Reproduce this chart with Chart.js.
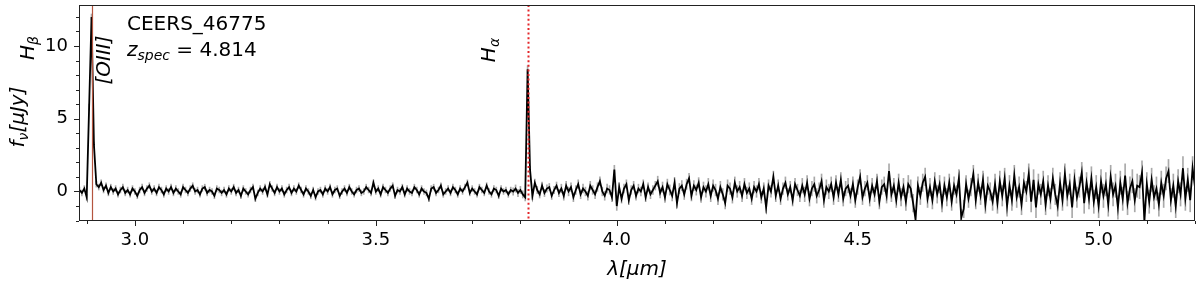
<!DOCTYPE html>
<html>
<head>
<meta charset="utf-8">
<script src="https://cdn.jsdelivr.net/npm/chart.js@4.4.1/dist/chart.umd.min.js"></script>
<style>
  html, body { margin: 0; padding: 0; background: #fff; }
  #wrap { width: 1200px; height: 286px; }
</style>
</head>
<body>
<div id="wrap"><canvas id="specChart"></canvas></div>
<script>
// wavelength grid of the spectrum (micron)
var lamStart = 2.885;
var lamStep = 0.005;

// flux density f_nu [uJy], one value per grid step, rows of 0.1 micron
var flux = [
  0.1, -0.1, 0.2, -0.4, 5.8, 12.0, 3.2, 0.5, 0.3, 0.6, 0.1, 0.4, -0.1, 0.3, 0.0, 0.2, -0.2, 0.1, 0.3, -0.1,
  0.1, -0.2, 0.2, 0.0, -0.3, 0.1, 0.3, -0.1, 0.2, 0.4, 0.0, 0.2, -0.1, 0.3, 0.1, -0.2, 0.2, 0.0, 0.3, -0.1,
  0.2, 0.0, -0.2, 0.3, 0.1, -0.1, 0.2, 0.4, 0.0, 0.1, -0.2, 0.2, 0.3, -0.1, 0.1, 0.0, -0.3, 0.2, 0.1, -0.1,
  0.1, -0.2, 0.2, 0.0, 0.3, -0.1, 0.1, -0.3, 0.2, 0.0, -0.2, 0.1, 0.3, -0.5, -0.1, 0.2, 0.0, 0.3, -0.2, 0.5,
  0.2, -0.1, 0.3, 0.0, 0.2, -0.2, 0.1, 0.3, -0.1, 0.2, 0.0, 0.4, 0.1, -0.2, 0.2, 0.0, -0.3, 0.1, -0.4, 0.0,
  0.1, -0.2, 0.2, 0.0, 0.3, -0.2, 0.1, 0.2, -0.3, 0.0, 0.2, -0.1, 0.3, 0.0, -0.2, 0.1, 0.2, -0.1, 0.0, 0.3,
  0.1, -0.1, 0.6, 0.0, 0.2, -0.2, 0.3, 0.1, -0.1, 0.2, 0.4, -0.3, 0.1, 0.0, 0.3, -0.2, 0.2, 0.0, -0.1, 0.3,
  0.1, -0.2, 0.2, 0.0, -0.1, -0.5, 0.2, 0.3, -0.1, 0.1, 0.4, -0.2, 0.0, 0.2, -0.1, 0.3, 0.1, -0.2, 0.2, 0.0,
  0.3, 0.6, -0.1, 0.2, 0.0, -0.2, 0.3, 0.1, -0.1, 0.4, 0.0, -0.2, 0.2, 0.1, -0.3, 0.2, 0.0, 0.1, -0.2, 0.1,
  0.0, 0.2, -0.1, 0.1, -0.2, -0.4, 8.4, 1.5, -0.3, 0.6, 0.1, -0.2, 0.4, -0.1, 0.2, 0.3, -0.3, 0.1, 0.4, -0.1,
  0.2, -0.3, 0.4, 0.0, 0.3, -0.4, 0.1, 0.5, -0.2, 0.2, 0.0, -0.3, 0.4, 0.1, -0.2, 0.3, 0.7, 0.0, -0.3, 0.2,
  0.1, -0.4, 1.5, -1.0, 0.3, -0.5, 0.2, 0.5, -0.6, 0.1, 0.4, -0.3, 0.2, 0.0, 0.5, -0.4, 0.3, -0.2, 0.1, 0.4,
  0.7, -0.1, 0.3, -0.4, 0.5, 0.1, -0.3, 0.6, -0.8, 0.2, 0.4, -0.2, 0.5, 0.9, -0.3, 0.4, 0.1, 0.6, -0.4, 0.3,
  0.0, 0.5, -0.3, 0.4, 0.1, -0.5, 0.3, -0.2, -0.8, 0.4, 0.2, -0.4, 0.6, 0.0, 0.3, -0.3, 0.5, -0.1, 0.2, -0.5,
  0.3, 0.0, 0.5, -0.4, 0.2, -1.1, 0.4, 0.0, 1.0, -0.3, 0.4, -0.5, 0.2, 0.6, -0.2, 0.3, -0.6, 0.5, 0.1, -0.3,
  0.4, -0.2, 0.6, -0.5, 0.2, 0.5, -0.3, 0.1, 0.7, -0.6, 0.3, 0.0, 0.5, -0.4, 0.6, -0.2, 0.8, -0.5, 0.2, 0.4,
  -0.3, 0.5, -0.6, 0.3, 1.0, -0.4, 0.2, 0.6, -0.5, 0.4, -0.2, 0.7, -0.7, 0.3, 0.5, -0.3, 1.4, -0.2, 0.4, -0.6,
  0.6, -0.4, 0.3, -0.7, 0.5, 0.2, -0.8, -1.9, 0.4, -0.3, 0.6, 1.0, -0.5, 0.3, -0.6, 0.7, -0.2, 0.5, -0.8, 0.4,
  -0.4, 0.6, -0.7, 0.4, -0.2, 0.9, -1.8, -1.2, 0.5, -0.5, 0.3, 1.2, -0.6, 0.6, -0.3, 0.8, -0.9, 0.4, 0.0, -0.7,
  0.5, -0.8, 0.7, -0.3, 0.9, -1.0, 0.4, -0.6, 1.1, -0.4, 0.3, -0.9, 0.6, 0.0, 1.2, -0.7, 0.8, -1.1, 0.5, -0.2,
  0.7, -0.9, 0.4, -0.5, 0.9, -0.2, -1.0, 0.6, -0.6, 1.2, -0.3, 0.5, -1.1, 0.8, -0.4, 0.3, 1.3, -0.8, 0.6, -0.5,
  0.9, -0.7, 0.3, -1.0, 0.7, -0.3, 0.5, -0.9, 1.0, -0.2, 0.4, -1.1, 0.6, -0.5, 1.1, -0.8, 0.2, 0.7, -0.6, 0.4,
  0.3, 1.3, -2.0, 0.5, -0.7, 0.8, -0.4, 0.2, -0.9, 0.6, -0.3, 0.9, 1.4, -0.6, 0.4, -1.0, 0.7, -0.2, 1.6, -0.5,
  0.8, -0.6, 1.6, 0.3
];

// 1-sigma error, one value per 0.1 micron row of flux
var fluxErr = [0.2, 0.2, 0.2, 0.2, 0.2, 0.2, 0.2, 0.2, 0.2, 0.25, 0.3, 0.3,
               0.35, 0.4, 0.4, 0.5, 0.5, 0.6, 0.6, 0.7, 0.7, 0.8, 0.8, 0.8];

// emission line positions (micron): [OIII], H-alpha
var lineLam = [2.910, 3.815];

var xTicks = [3.0, 3.5, 4.0, 4.5, 5.0];
var yTicks = [0, 5, 10];

var spec = [];
var errBars = [];
for (var i = 0; i < flux.length; i++) {
    var lam = +(lamStart + i * lamStep).toFixed(4);
    var e = fluxErr[Math.floor(i / 20)];
    spec.push({ x: lam, y: flux[i] });
    errBars.push({ x: lam, y: [flux[i] - e, flux[i] + e] });
}

var FONT = 'DejaVu Sans';

// draws a little mathtext-like run of text: parts = [text, italic, subscript]
function mathText(ctx, x, y, parts, size, rot, align) {
    ctx.save();
    ctx.translate(x, y);
    if (rot) ctx.rotate(rot);
    ctx.textBaseline = 'alphabetic';
    ctx.fillStyle = '#000';
    var w = 0;
    parts.forEach(function (p) {
        var s = p[2] ? size * 0.7 : size;
        ctx.font = (p[1] ? 'italic ' : '') + s + 'px ' + FONT;
        p.w = ctx.measureText(p[0]).width;
        w += p.w;
    });
    var cx = align === 'center' ? -w / 2 : 0;
    parts.forEach(function (p) {
        var s = p[2] ? size * 0.7 : size;
        ctx.font = (p[1] ? 'italic ' : '') + s + 'px ' + FONT;
        ctx.textAlign = 'left';
        ctx.fillText(p[0], cx, p[2] ? size * 0.22 : 0);
        cx += p.w;
    });
    ctx.restore();
}

var decor = {
    id: 'decor',
    afterDatasetsDraw: function (chart) {
        var ctx = chart.ctx, a = chart.chartArea, x = chart.scales.x;
        ctx.save();
        ctx.beginPath();
        ctx.rect(a.left, a.top, a.right - a.left, a.bottom - a.top);
        ctx.clip();
        // [OIII] solid line
        var px = Math.round(x.getPixelForValue(lineLam[0])) + 0.5;
        ctx.strokeStyle = '#b4553f';
        ctx.lineWidth = 1.2;
        ctx.beginPath(); ctx.moveTo(px, a.top); ctx.lineTo(px, a.bottom); ctx.stroke();
        // H-alpha dotted line
        px = Math.round(x.getPixelForValue(lineLam[1])) + 0.5;
        ctx.strokeStyle = '#e3262a';
        ctx.lineWidth = 2;
        ctx.setLineDash([2, 2.6]);
        ctx.beginPath(); ctx.moveTo(px, a.top); ctx.lineTo(px, a.bottom); ctx.stroke();
        ctx.restore();
    },
    afterDraw: function (chart) {
        var ctx = chart.ctx, a = chart.chartArea, x = chart.scales.x, y = chart.scales.y;
        ctx.save();
        // frame
        ctx.strokeStyle = '#222';
        ctx.lineWidth = 1;
        ctx.strokeRect(a.left + 0.5, a.top + 0.5, a.right - a.left - 1, a.bottom - a.top - 1);
        // ticks
        ctx.beginPath();
        var v, p;
        for (v = 2.9; v <= 5.2001; v += 0.1) {
            p = Math.round(x.getPixelForValue(v)) + 0.5;
            var major = Math.abs(v * 2 - Math.round(v * 2)) < 1e-6;
            ctx.moveTo(p, a.bottom); ctx.lineTo(p, a.bottom + (major ? 5 : 3));
        }
        for (v = -2; v <= 12; v += 1) {
            p = Math.round(y.getPixelForValue(v)) + 0.5;
            ctx.moveTo(a.left, p); ctx.lineTo(a.left - (v % 5 === 0 ? 5 : 3), p);
        }
        ctx.stroke();
        ctx.restore();

        var up = -Math.PI / 2;
        mathText(ctx, 24, 117, [['f', true], ['\u03bd', true, true], ['[\u03bcJy]', true]], 20, up, 'center');
        mathText(ctx, 637, 275, [['\u03bb[\u03bcm]', true]], 20, 0, 'center');
        mathText(ctx, 34, 48, [['H', true], ['\u03b2', true, true]], 20, up, 'center');
        mathText(ctx, 110, 60, [['[OIII]', true]], 20, up, 'center');
        mathText(ctx, 495, 50, [['H', true], ['\u03b1', true, true]], 20, up, 'center');
        mathText(ctx, 127, 30, [['CEERS_46775', false]], 20, 0, 'left');
        mathText(ctx, 127, 56, [['z', true], ['spec', true, true], [' = 4.814', false]], 20, 0, 'left');
    }
};

var ctx = document.getElementById('specChart');
var chart = new Chart(ctx, {
    type: 'line',
    data: {
        datasets: [{
            type: 'line',
            data: spec,
            borderColor: '#000',
            borderWidth: 1.8,
            pointRadius: 0,
            tension: 0,
            order: 0
        }, {
            type: 'bar',
            data: errBars,
            backgroundColor: 'rgba(140,140,140,0.75)',
            barThickness: 1,
            grouped: false,
            order: 1
        }]
    },
    options: {
        responsive: true,
        maintainAspectRatio: false,
        animation: false,
        events: [],
        layout: { padding: { top: 5, right: 5, left: 0, bottom: 0 } },
        plugins: { legend: { display: false }, tooltip: { enabled: false } },
        scales: {
            x: {
                type: 'linear',
                min: 2.884,
                max: 5.2,
                offset: false,
                grid: { display: false, drawTicks: false, offset: false },
                border: { display: false },
                afterBuildTicks: function (s) { s.ticks = xTicks.map(function (v) { return { value: v }; }); },
                afterFit: function (s) { s.height = 65; s.paddingLeft = 0; s.paddingRight = 0; },
                ticks: {
                    padding: 9,
                    color: '#000',
                    font: { family: FONT, size: 18 },
                    callback: function (v) { return v.toFixed(1); }
                }
            },
            y: {
                min: -2.03,
                max: 12.82,
                grid: { display: false, drawTicks: false },
                border: { display: false },
                afterBuildTicks: function (s) { s.ticks = yTicks.map(function (v) { return { value: v }; }); },
                afterFit: function (s) { s.width = 79; s.paddingTop = 0; s.paddingBottom = 0; },
                ticks: {
                    padding: 11,
                    color: '#000',
                    font: { family: FONT, size: 18 }
                }
            }
        }
    },
    plugins: [decor]
});
</script>
</body>
</html>
